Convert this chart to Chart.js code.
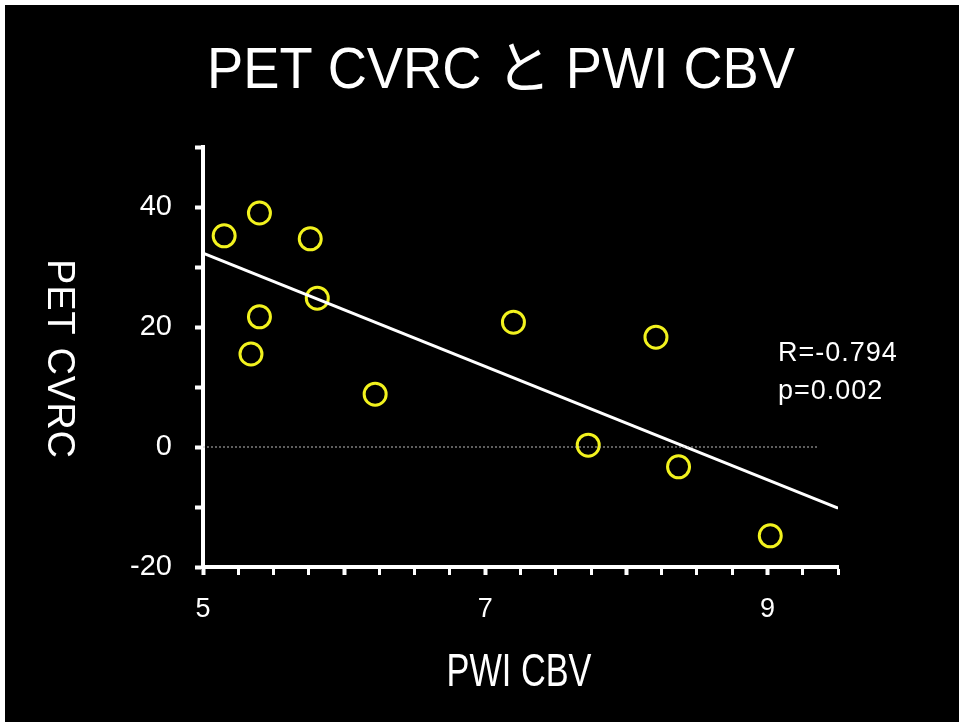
<!DOCTYPE html>
<html>
<head>
<meta charset="utf-8">
<script src="https://cdn.jsdelivr.net/npm/chart.js@4"></script>
<style>
  html, body { margin: 0; padding: 0; background: #fff; }
  #wrap { position: absolute; left: 5px; top: 5px; width: 954px; height: 717px; background: #000; }
</style>
</head>
<body>
<div id="wrap"><canvas id="chart" width="954" height="717"></canvas></div>
<script>
// データ
const titleText = "PET CVRC と PWI CBV";
const xTitle = "PWI CBV";
const yTitle = "PET CVRC";
const statLines = ["R=-0.794", "p=0.002"];

const cbv = [5.15, 5.40, 5.76, 5.81, 5.40, 5.34, 6.22, 7.20, 8.21, 7.73, 8.37, 9.02];
const cvrc = [35.2, 39.0, 34.7, 24.8, 21.7, 15.5, 8.8, 20.8, 18.3, 0.3, -3.3, -14.8];

// 回帰直線と0の点線
const regX = [5, 9.5];
const regY = [32.3, -10.2];
const zeroX = [5, 9.36];
const zeroY = [0, 0];

const xLabels = [5, 7, 9];
const yLabels = [-20, 0, 20, 40];

const toPoints = (xs, ys) => xs.map((x, i) => ({ x: x, y: ys[i] }));

// 横幅を合わせて文字を書く
function drawFit(ctx, text, cx, y, width) {
    const w = ctx.measureText(text).width;
    ctx.save();
    ctx.translate(cx, y);
    ctx.scale(width / w, 1);
    ctx.fillText(text, 0, 0);
    ctx.restore();
}

// テキスト描画 (canvas座標 = ページ座標 - 5)
const textPlugin = {
    id: "texts",
    afterDraw(chart) {
        const ctx = chart.ctx;
        ctx.save();
        ctx.fillStyle = "#fff";
        ctx.textBaseline = "alphabetic";
        ctx.textAlign = "center";

        ctx.font = '57px "Liberation Sans", "Noto Sans CJK JP", sans-serif';
        drawFit(ctx, titleText, 496, 83, 588);

        ctx.font = '46px "Liberation Sans", sans-serif';
        drawFit(ctx, xTitle, 514, 681, 145);

        ctx.save();
        ctx.translate(53, 354);
        ctx.rotate(Math.PI / 2);
        ctx.textBaseline = "middle";
        ctx.letterSpacing = "1px";
        ctx.font = '38px "Liberation Sans", sans-serif';
        ctx.fillText(yTitle, 0, 0);
        ctx.restore();

        ctx.textAlign = "left";
        ctx.letterSpacing = "1px";
        ctx.font = '27px "Liberation Sans", sans-serif';
        ctx.fillText(statLines[0], 773, 356);
        ctx.fillText(statLines[1], 773, 394);
        ctx.restore();
    }
};

new Chart(document.getElementById("chart").getContext("2d"), {
    type: "scatter",
    data: {
        datasets: [
            {
                label: "zero",
                type: "line",
                data: toPoints(zeroX, zeroY),
                borderColor: "#bbbbbb",
                borderWidth: 1,
                borderDash: [2, 2],
                pointRadius: 0,
                fill: false
            },
            {
                label: "regression",
                type: "line",
                data: toPoints(regX, regY),
                borderColor: "#ffffff",
                borderWidth: 3,
                pointRadius: 0,
                fill: false
            },
            {
                label: "patients",
                data: toPoints(cbv, cvrc),
                pointStyle: "circle",
                pointRadius: 11,
                pointHoverRadius: 11,
                pointBorderWidth: 3,
                pointBorderColor: "#f2f21e",
                pointBackgroundColor: "rgba(0,0,0,0)"
            }
        ]
    },
    options: {
        responsive: false,
        animation: false,
        layout: { padding: { top: 142, right: 121, left: 0, bottom: 0 } },
        plugins: {
            legend: { display: false },
            tooltip: { enabled: false }
        },
        scales: {
            x: {
                type: "linear",
                min: 5,
                max: 9.5,
                afterFit: function (scale) { scale.height = 155; },
                border: { color: "#fff", width: 4 },
                grid: {
                    drawOnChartArea: false,
                    tickLength: 8,
                    tickColor: "#fff",
                    tickWidth: function (c) {
                        const v = c.tick ? c.tick.value : 0;
                        return Number.isInteger(v) ? 4 : 3;
                    }
                },
                ticks: {
                    stepSize: 0.25,
                    autoSkip: false,
                    maxRotation: 0,
                    padding: 18,
                    color: "#fff",
                    font: { family: '"Liberation Sans Narrow", "Liberation Sans", sans-serif', size: 27 },
                    callback: function (v) { return xLabels.includes(v) ? String(v) : ""; }
                }
            },
            y: {
                type: "linear",
                min: -20,
                max: 50,
                afterFit: function (scale) { scale.width = 198; },
                border: { color: "#fff", width: 4 },
                grid: {
                    drawOnChartArea: false,
                    tickLength: 8,
                    tickColor: "#fff",
                    tickWidth: 4
                },
                ticks: {
                    stepSize: 10,
                    autoSkip: false,
                    padding: 23,
                    color: "#fff",
                    font: { family: '"Liberation Sans", sans-serif', size: 29 },
                    callback: function (v) { return yLabels.includes(v) ? String(v) : ""; }
                }
            }
        }
    },
    plugins: [textPlugin]
});
</script>
</body>
</html>
